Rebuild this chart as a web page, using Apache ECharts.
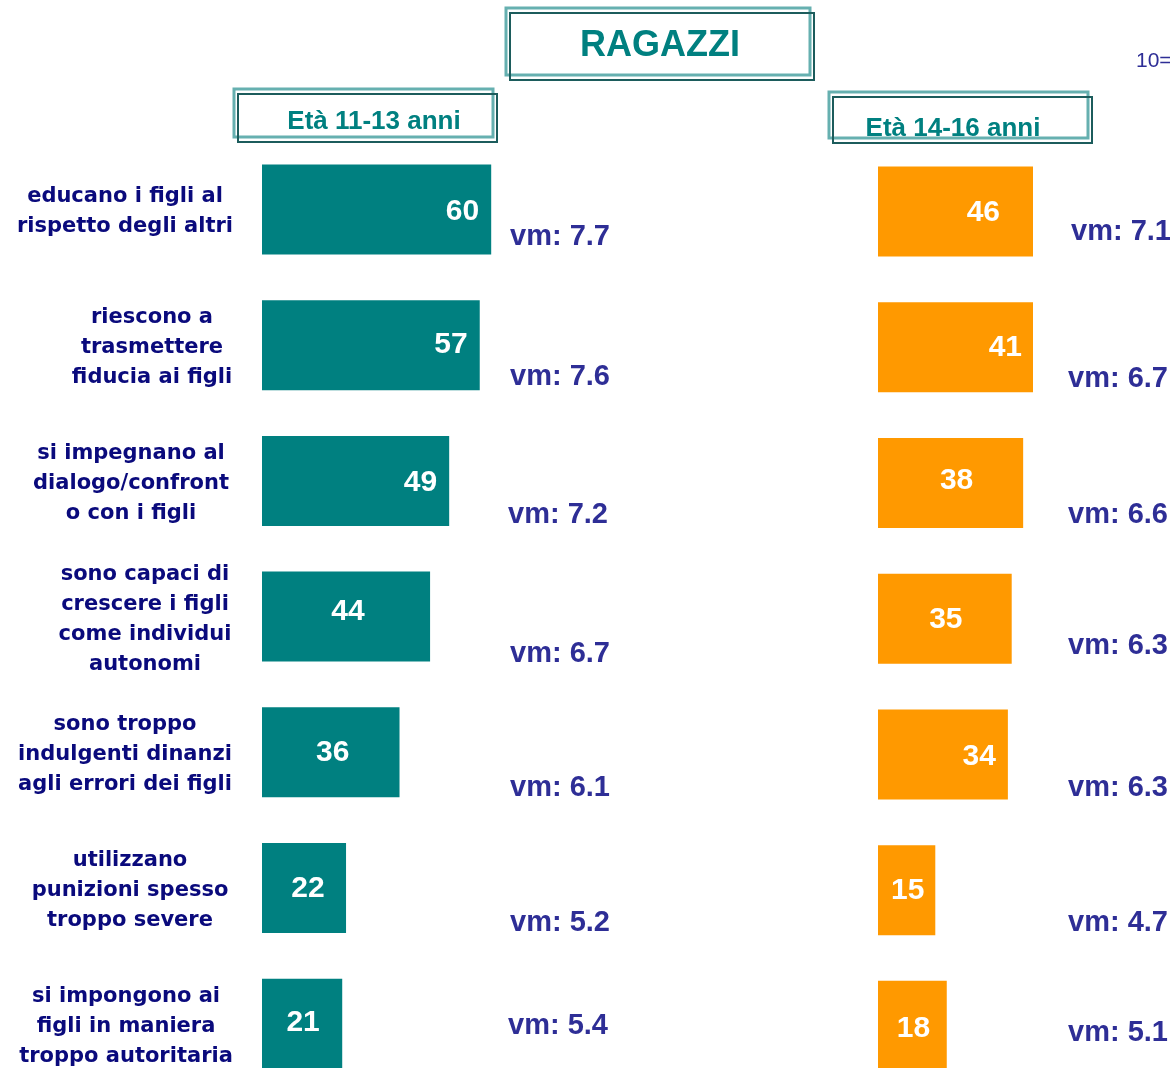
<!DOCTYPE html>
<html>
<head>
<meta charset="utf-8">
<script src="https://cdn.jsdelivr.net/npm/echarts@6/dist/echarts.min.js"></script>
<style>
html,body{margin:0;padding:0;background:#fff;overflow:hidden;}
#chart{width:1170px;height:1120px;}
</style>
</head>
<body>
<div id="chart"></div>
<script>
// ---- DATA ----
const categories = [
  'educano i figli al\nrispetto degli altri',
  'riescono a\ntrasmettere\nfiducia ai figli',
  'si impegnano al\ndialogo/confront\no con i figli',
  'sono capaci di\ncrescere i figli\ncome individui\nautonomi',
  'sono troppo\nindulgenti dinanzi\nagli errori dei figli',
  'utilizzano\npunizioni spesso\ntroppo severe',
  'si impongono ai\nfigli in maniera\ntroppo autoritaria'
];
const values1113 = [60, 57, 49, 44, 36, 22, 21];
const values1416 = [46, 41, 38, 35, 34, 15, 18];
const vm1113 = [7.7, 7.6, 7.2, 6.7, 6.1, 5.2, 5.4];
const vm1416 = [7.1, 6.7, 6.6, 6.3, 6.3, 4.7, 5.1];
const titleText = 'RAGAZZI';
const groupTitles = ['Età 11-13 anni', 'Età 14-16 anni'];
const noteText = '10=';

// ---- STYLE / LAYOUT ----
const TEAL = '#008080';
const ORANGE = '#FF9900';
const NAVY = '#0a0a7c';
const VMCOL = '#2e2e96';
const PX_PER_UNIT = 3.82;
const LEFT_X0 = 262, RIGHT_X0 = 878, RIGHT_END = 1033;
const VM_LEFT_X = (510 - LEFT_X0) / PX_PER_UNIT;
const VM_RIGHT_X = (1068 - RIGHT_X0) / PX_PER_UNIT;
const catLabelCenters = [125, 152, 131, 145, 125, 130, 126];
const vmOffLeft = [[0, 28], [0, 32], [-2, 34], [0, 37], [0, 36], [0, 35], [-2, 2]];
const vmOffRight = [[3, 20], [0, 32], [0, 32], [0, 27], [0, 34], [0, 33], [0, 7]];
const lblLeft = [
  {position: 'insideRight', distance: 12, offset: [0, 2]},
  {position: 'insideRight', distance: 12, offset: [0, 0]},
  {position: 'insideRight', distance: 12, offset: [0, 2]},
  {position: 'inside', offset: [2, -5]},
  {position: 'inside', offset: [2, 0]},
  {position: 'inside', offset: [4, 1]},
  {position: 'inside', offset: [1, -1]}
];
const lblRight = [
  {position: 'insideRight', distance: 33, offset: [0, 1]},
  {position: 'insideRight', distance: 11, offset: [0, 0]},
  {position: 'inside', offset: [6, -2]},
  {position: 'inside', offset: [1, 1]},
  {position: 'insideRight', distance: 12, offset: [0, 2]},
  {position: 'inside', offset: [1, 1]},
  {position: 'inside', offset: [1, 3]}
];

const LABEL_ANCHOR = 152;
const CAT_FONT = 21;
const rich = {};
catLabelCenters.forEach((c, i) => {
  rich['s' + i] = {
    fontFamily: 'DejaVu Sans', fontWeight: 'bold', fontSize: CAT_FONT, color: NAVY,
    lineHeight: 30, padding: [0, 2 * (LABEL_ANCHOR - c), 0, 0]
  };
});

const valueLabelBase = {show: true, color: '#fff', fontFamily: 'Liberation Sans, Arial', fontWeight: 'bold', fontSize: 30};
const vmLabelBase = {show: true, position: 'right', distance: 0, color: VMCOL, opacity: 1, fontFamily: 'Liberation Sans, Arial', fontWeight: 'bold', fontSize: 29};

function boxGraphics(x, y, w, h) {
  return [
    {type: 'rect', shape: {x: x, y: y, width: w, height: h}, style: {fill: 'none', stroke: '#66b0b0', lineWidth: 3}},
    {type: 'rect', shape: {x: x + 4, y: y + 5, width: w, height: h}, style: {fill: 'none', stroke: '#1c5c5c', lineWidth: 2}}
  ];
}

const chart = echarts.init(document.getElementById('chart'), null, {renderer: 'canvas'});
const option = {
  animation: false,
  backgroundColor: '#ffffff',
  grid: [
    {left: LEFT_X0, top: 141.6, width: 100 * PX_PER_UNIT, height: 950, containLabel: false},
    {left: RIGHT_X0, top: 143.7, width: RIGHT_END - RIGHT_X0, height: 950, containLabel: false}
  ],
  xAxis: [
    {gridIndex: 0, type: 'value', min: 0, max: 100, show: false},
    {gridIndex: 1, type: 'value', min: 0, max: (RIGHT_END - RIGHT_X0) / PX_PER_UNIT, show: false}
  ],
  yAxis: [
    {gridIndex: 0, type: 'category', inverse: true, data: categories,
      axisLine: {show: false}, axisTick: {show: false}, splitLine: {show: false},
      axisLabel: {
        show: true, margin: LEFT_X0 - LABEL_ANCHOR, align: 'center', interval: 0,
        padding: [5, 0, 0, 0],
        fontFamily: 'DejaVu Sans', fontWeight: 'bold', fontSize: CAT_FONT, color: NAVY, lineHeight: 30,
        formatter: (v, i) => v.split('\n').map(l => '{s' + i + '|' + l + '}').join('\n'),
        rich: rich
      }},
    {gridIndex: 1, type: 'category', inverse: true, data: categories,
      axisLine: {show: false}, axisTick: {show: false}, splitLine: {show: false}, axisLabel: {show: false}}
  ],
  graphic: [].concat(
    boxGraphics(506, 8, 304, 67),
    boxGraphics(234, 89, 259, 48),
    boxGraphics(829, 92, 259, 46),
    [
      {type: 'text', x: 660, y: 46, style: {text: titleText, fill: TEAL, font: 'bold 36px "Liberation Sans", Arial', textAlign: 'center', textVerticalAlign: 'middle'}},
      {type: 'text', x: 374, y: 122, style: {text: groupTitles[0], fill: TEAL, font: 'bold 26px "Liberation Sans", Arial', textAlign: 'center', textVerticalAlign: 'middle'}},
      {type: 'text', x: 953, y: 129, style: {text: groupTitles[1], fill: TEAL, font: 'bold 26px "Liberation Sans", Arial', textAlign: 'center', textVerticalAlign: 'middle'}},
      {type: 'text', x: 1136, y: 61, style: {text: noteText, fill: VMCOL, font: '21px "Liberation Sans", Arial', textAlign: 'left', textVerticalAlign: 'middle'}}
    ]
  ),
  series: [
    {type: 'bar', xAxisIndex: 0, yAxisIndex: 0, barWidth: 90, clip: true,
      itemStyle: {color: TEAL},
      data: values1113.map((v, i) => ({value: v, label: Object.assign({}, valueLabelBase, lblLeft[i])}))},
    {type: 'bar', xAxisIndex: 1, yAxisIndex: 1, barWidth: 90, clip: true,
      itemStyle: {color: ORANGE},
      data: values1416.map((v, i) => ({value: v, label: Object.assign({}, valueLabelBase, lblRight[i])}))},
    {type: 'scatter', xAxisIndex: 0, yAxisIndex: 0, symbolSize: 0, clip: false,
      itemStyle: {color: VMCOL, opacity: 1},
      data: vm1113.map((v, i) => ({value: [VM_LEFT_X, i, v], label: Object.assign({}, vmLabelBase, {offset: vmOffLeft[i]})})),
      label: Object.assign({}, vmLabelBase, {formatter: p => 'vm: ' + p.value[2].toFixed(1)})},
    {type: 'scatter', xAxisIndex: 1, yAxisIndex: 1, symbolSize: 0, clip: false,
      itemStyle: {color: VMCOL, opacity: 1},
      data: vm1416.map((v, i) => ({value: [VM_RIGHT_X, i, v], label: Object.assign({}, vmLabelBase, {offset: vmOffRight[i]})})),
      label: Object.assign({}, vmLabelBase, {formatter: p => 'vm: ' + p.value[2].toFixed(1)})}
  ]
};
chart.setOption(option);
</script>
</body>
</html>
